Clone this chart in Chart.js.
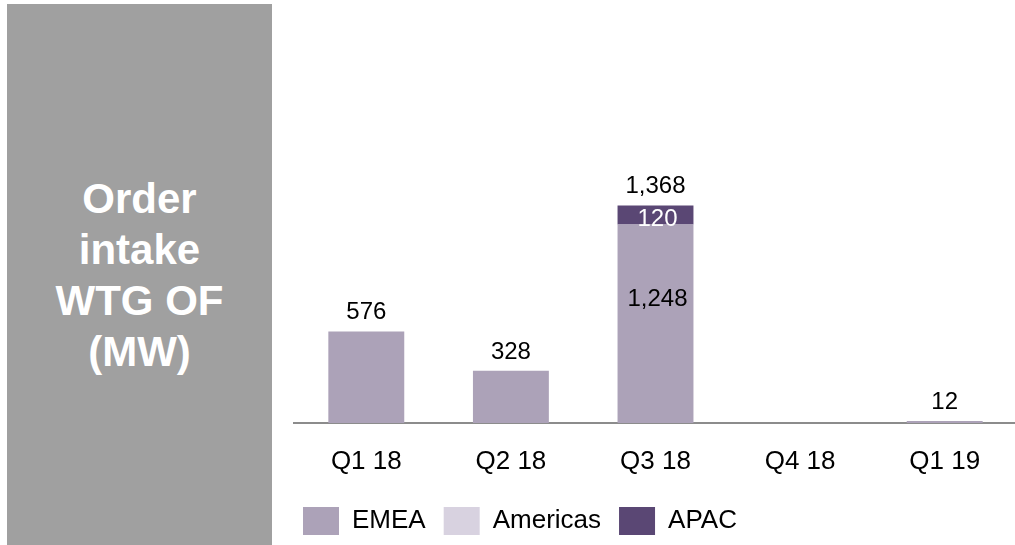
<!DOCTYPE html>
<html>
<head>
<meta charset="utf-8">
<script src="https://cdn.jsdelivr.net/npm/chart.js@4/dist/chart.umd.min.js"></script>
<style>
    html, body {
        margin: 0;
        padding: 0;
        width: 1015px;
        height: 545px;
        overflow: hidden;
        background: #ffffff;
        font-family: "Liberation Sans", Arial, sans-serif;
    }
    .side-title {
        position: absolute;
        left: 7px;
        top: 4px;
        width: 265px;
        height: 541px;
        background: #a0a0a0;
        color: #ffffff;
        font-weight: bold;
        font-size: 42px;
        line-height: 51px;
        text-align: center;
        display: flex;
        align-items: center;
        justify-content: center;
    }
    #order-chart {
        position: absolute;
        left: 280px;
        top: 0;
    }
</style>
</head>
<body>
<div class="side-title"><div>Order<br>intake<br>WTG OF<br>(MW)</div></div>
<canvas id="order-chart" width="740" height="545"></canvas>
<script>
const quarters = ['Q1 18', 'Q2 18', 'Q3 18', 'Q4 18', 'Q1 19'];
const emea = [576, 328, 1248, 0, 12];
const americas = [0, 0, 0, 0, 0];
const apac = [0, 0, 120, 0, 0];

const FONT = '"Liberation Sans", Arial, sans-serif';

// segment label colour and vertical nudge, per dataset index
const segmentLabelStyle = [
    { color: '#000000', dy: -24 },
    { color: '#000000', dy: 0 },
    { color: '#ffffff', dy: 4 },
];

function formatNumber(value) {
    return value.toLocaleString('en-US');
}

const valueLabels = {
    id: 'valueLabels',
    afterDatasetsDraw(chart) {
        const { ctx } = chart;
        const x = chart.scales.x;
        const y = chart.scales.y;
        const series = chart.data.datasets.map((ds) => ds.data);

        ctx.save();
        ctx.font = `24px ${FONT}`;
        ctx.textAlign = 'center';

        quarters.forEach((q, i) => {
            const parts = series.map((s) => s[i]);
            const total = parts.reduce((a, b) => a + b, 0);
            if (!total) {
                return;
            }

            ctx.fillStyle = '#000000';
            ctx.textBaseline = 'alphabetic';
            ctx.fillText(formatNumber(total), x.getPixelForValue(i), y.getPixelForValue(total) - 12);

            // split values only where a bar is made of more than one segment
            if (parts.filter((v) => v > 0).length < 2) {
                return;
            }
            chart.data.datasets.forEach((ds, d) => {
                const bar = chart.getDatasetMeta(d).data[i];
                if (!ds.data[i] || !bar) {
                    return;
                }
                const style = segmentLabelStyle[d];
                ctx.fillStyle = style.color;
                ctx.textBaseline = 'middle';
                ctx.fillText(formatNumber(ds.data[i]), bar.x + 2, (bar.y + bar.base) / 2 + style.dy);
            });
        });
        ctx.restore();
    },
};

new Chart(document.getElementById('order-chart'), {
    type: 'bar',
    data: {
        labels: quarters,
        datasets: [
            { label: 'EMEA', data: emea, backgroundColor: '#aca2b8' },
            { label: 'Americas', data: americas, backgroundColor: '#d8d2e0' },
            { label: 'APAC', data: apac, backgroundColor: '#5a4774' },
        ],
    },
    options: {
        responsive: false,
        animation: false,
        events: [],
        layout: { padding: { left: 5, right: 3, top: 0, bottom: 0 } },
        datasets: {
            bar: { barPercentage: 0.525, categoryPercentage: 1, borderWidth: 0 },
        },
        plugins: {
            tooltip: { enabled: false },
            legend: {
                position: 'bottom',
                align: 'start',
                labels: {
                    boxWidth: 36,
                    boxHeight: 28,
                    padding: 18,
                    color: '#000000',
                    font: { family: FONT, size: 26 },
                },
            },
        },
        scales: {
            x: {
                stacked: true,
                grid: { display: false, drawTicks: false },
                border: { display: true, color: '#8c8c8c', width: 2 },
                ticks: { color: '#000000', padding: 23, font: { family: FONT, size: 26 } },
                afterFit(scale) {
                    scale.height = 66;
                },
            },
            y: {
                stacked: true,
                min: 0,
                max: 2660,
                grid: { display: false, drawTicks: false },
                border: { display: false },
                ticks: { display: false },
                afterFit(scale) {
                    scale.width = 9;
                },
            },
        },
    },
    plugins: [valueLabels],
});
</script>
</body>
</html>
